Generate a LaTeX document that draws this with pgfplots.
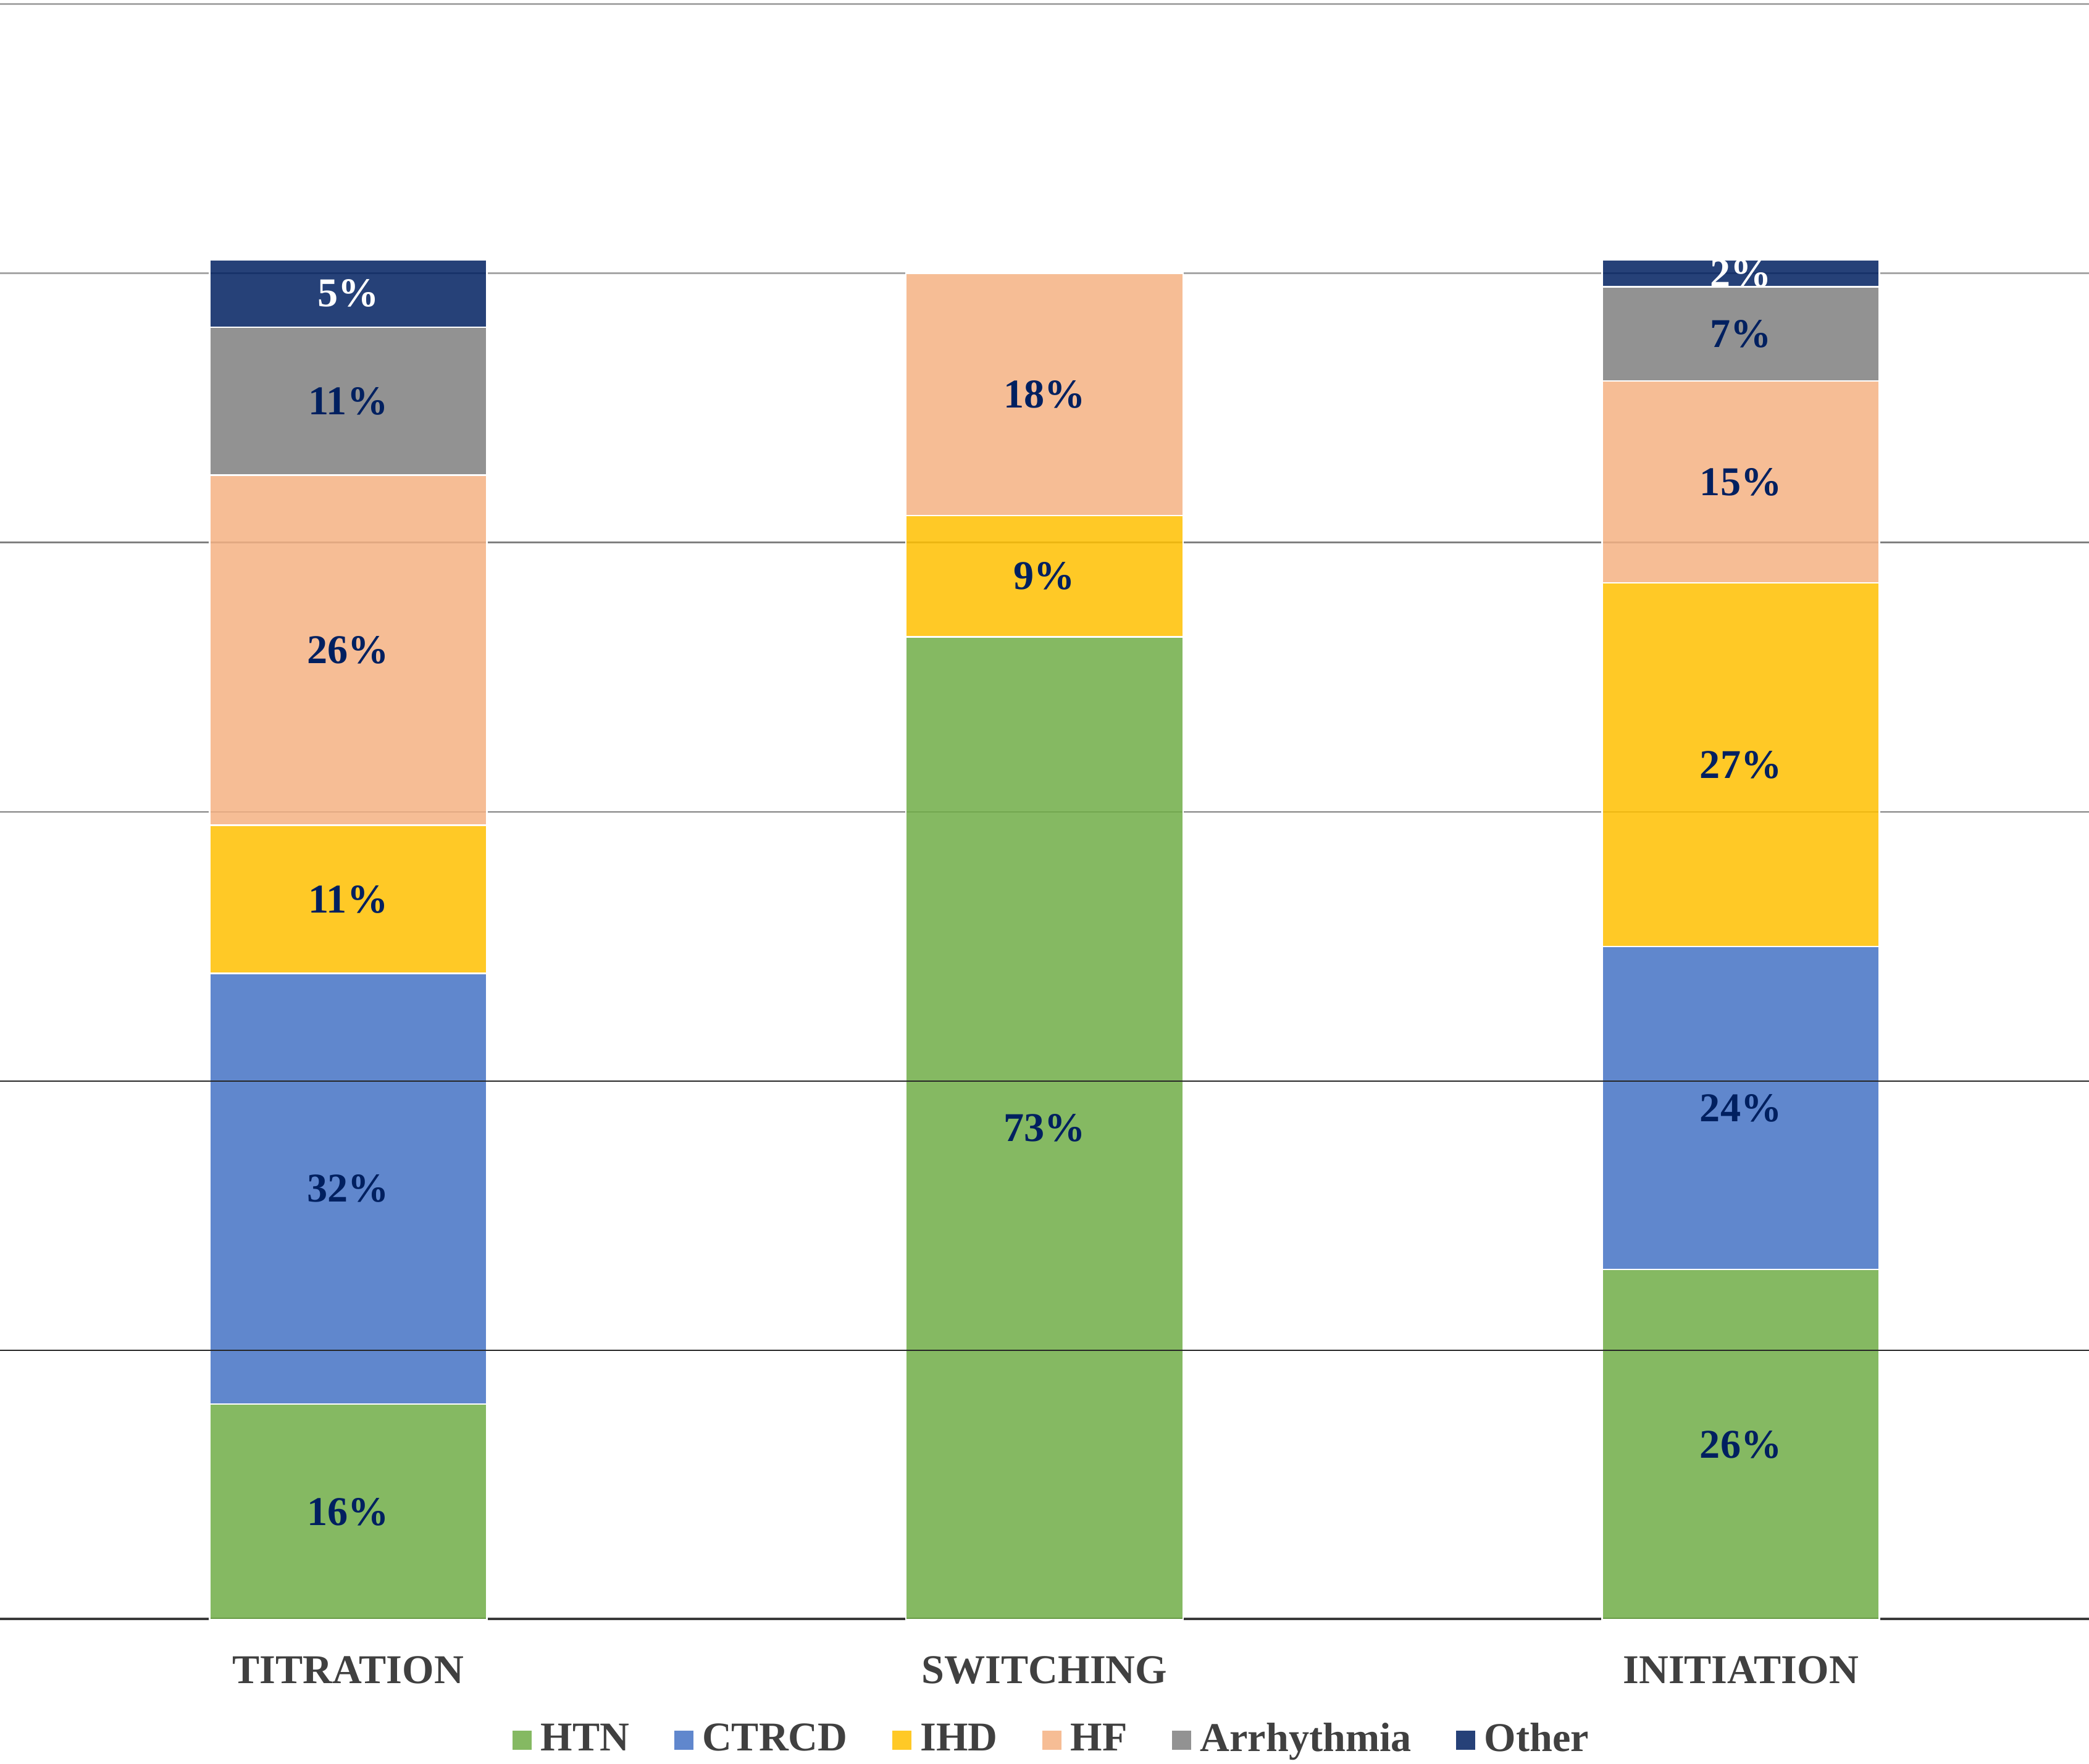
\documentclass[border=0pt]{standalone}
\usepackage{pgfplots}
\pgfplotsset{compat=1.18}
\usepackage{pgfplotstable}
\usepackage{fontspec}
\setmainfont{Liberation Serif}
\definecolor{cHTN}{HTML}{70AD47}
\definecolor{cCTRCD}{HTML}{4472C4}
\definecolor{cIHD}{HTML}{FFC000}
\definecolor{cHF}{HTML}{F4B183}
\definecolor{cArr}{HTML}{7F7F7F}
\definecolor{cOther}{HTML}{002060}
\definecolor{labnavy}{HTML}{002060}
\definecolor{txtgray}{HTML}{404040}
\definecolor{gridA}{HTML}{A6A6A6}
\definecolor{gridB}{HTML}{808080}
\definecolor{gridC}{HTML}{262626}
\pgfplotstableread{
x htn ctrcd ihd hf arr other
0 16 32 11 26 11 5
1 73 0 9 18 0 0
2 26 24 27 15 7 2
}\data
\newcommand{\lfont}{\bfseries\fontsize{9.2}{11}\selectfont}
\begin{document}
\begin{tikzpicture}
\begin{axis}[
  set layers,
  scale only axis, width=470.1pt, height=363.6pt,
  ybar stacked, bar width=62.4pt,
  xmin=-0.5, xmax=2.5, ymin=0, ymax=120,
  axis line style={draw=none},
  major tick length=0pt, minor tick length=0pt,
  xtick={0,1,2}, xticklabels={TITRATION,SWITCHING,INITIATION},
  xticklabel style={font=\lfont, text=txtgray, anchor=base, yshift=-14.4pt},
  ytick={60,80}, yticklabels={},
  minor ytick={100,120},
  ymajorgrids, yminorgrids,
  major grid style={gridB, line width=0.35pt},
  minor grid style={gridA, line width=0.35pt},
  /pgf/number format/assume math mode=true,
  point meta=explicit,
  nodes near coords={\pgfmathfloatifflags{\pgfplotspointmeta}{0}{}{\pgfmathprintnumber[fixed,precision=0]{\pgfplotspointmeta}\%}},
  every node near coord/.append style={font=\lfont, text=labnavy, text opacity=1, anchor=center},
  legend columns=-1,
  legend style={draw=none, fill=none, font=\lfont, text=txtgray, at={(0.5,0)}, anchor=center, yshift=-27.2pt, xshift=2.4pt,
    /tikz/every even column/.append style={column sep=8.1pt}},
  legend image code/.code={\fill[#1, draw=none] (0pt,-2.15pt) rectangle (4.3pt,2.15pt);},
]
\draw[on layer=axis grid, gridC, line width=0.35pt] (axis cs:-0.5,20) -- (axis cs:2.5,20);
\draw[on layer=axis grid, gridC, line width=0.35pt] (axis cs:-0.5,40) -- (axis cs:2.5,40);
\addplot[fill=cHTN, fill opacity=0.85, draw=white, line width=0.35pt] table[x=x, y=htn, meta=htn] {\data};
\addplot[fill=cCTRCD, fill opacity=0.85, draw=white, line width=0.35pt] table[x=x, y=ctrcd, meta=ctrcd] {\data};
\addplot[fill=cIHD, fill opacity=0.85, draw=white, line width=0.35pt] table[x=x, y=ihd, meta=ihd] {\data};
\addplot[fill=cHF, fill opacity=0.85, draw=white, line width=0.35pt] table[x=x, y=hf, meta=hf] {\data};
\addplot[fill=cArr, fill opacity=0.85, draw=white, line width=0.35pt] table[x=x, y=arr, meta=arr] {\data};
\addplot[fill=cOther, fill opacity=0.85, draw=white, line width=0.35pt, every node near coord/.append style={text=white}] table[x=x, y=other, meta=other] {\data};
\legend{HTN, CTRCD, IHD, HF, Arrhythmia, Other}
\draw[on layer=axis foreground, color={rgb,255:red,58;green,58;blue,58}, line width=0.8pt] (rel axis cs:0,0) -- (rel axis cs:1,0);
\coordinate (bl) at (rel axis cs:0,0);
\coordinate (tr) at (rel axis cs:1,1);
\end{axis}
\pgfresetboundingbox
\path[use as bounding box] ([yshift=-32.4pt]bl) rectangle ([yshift=0.9pt]tr);
\end{tikzpicture}
\end{document}
